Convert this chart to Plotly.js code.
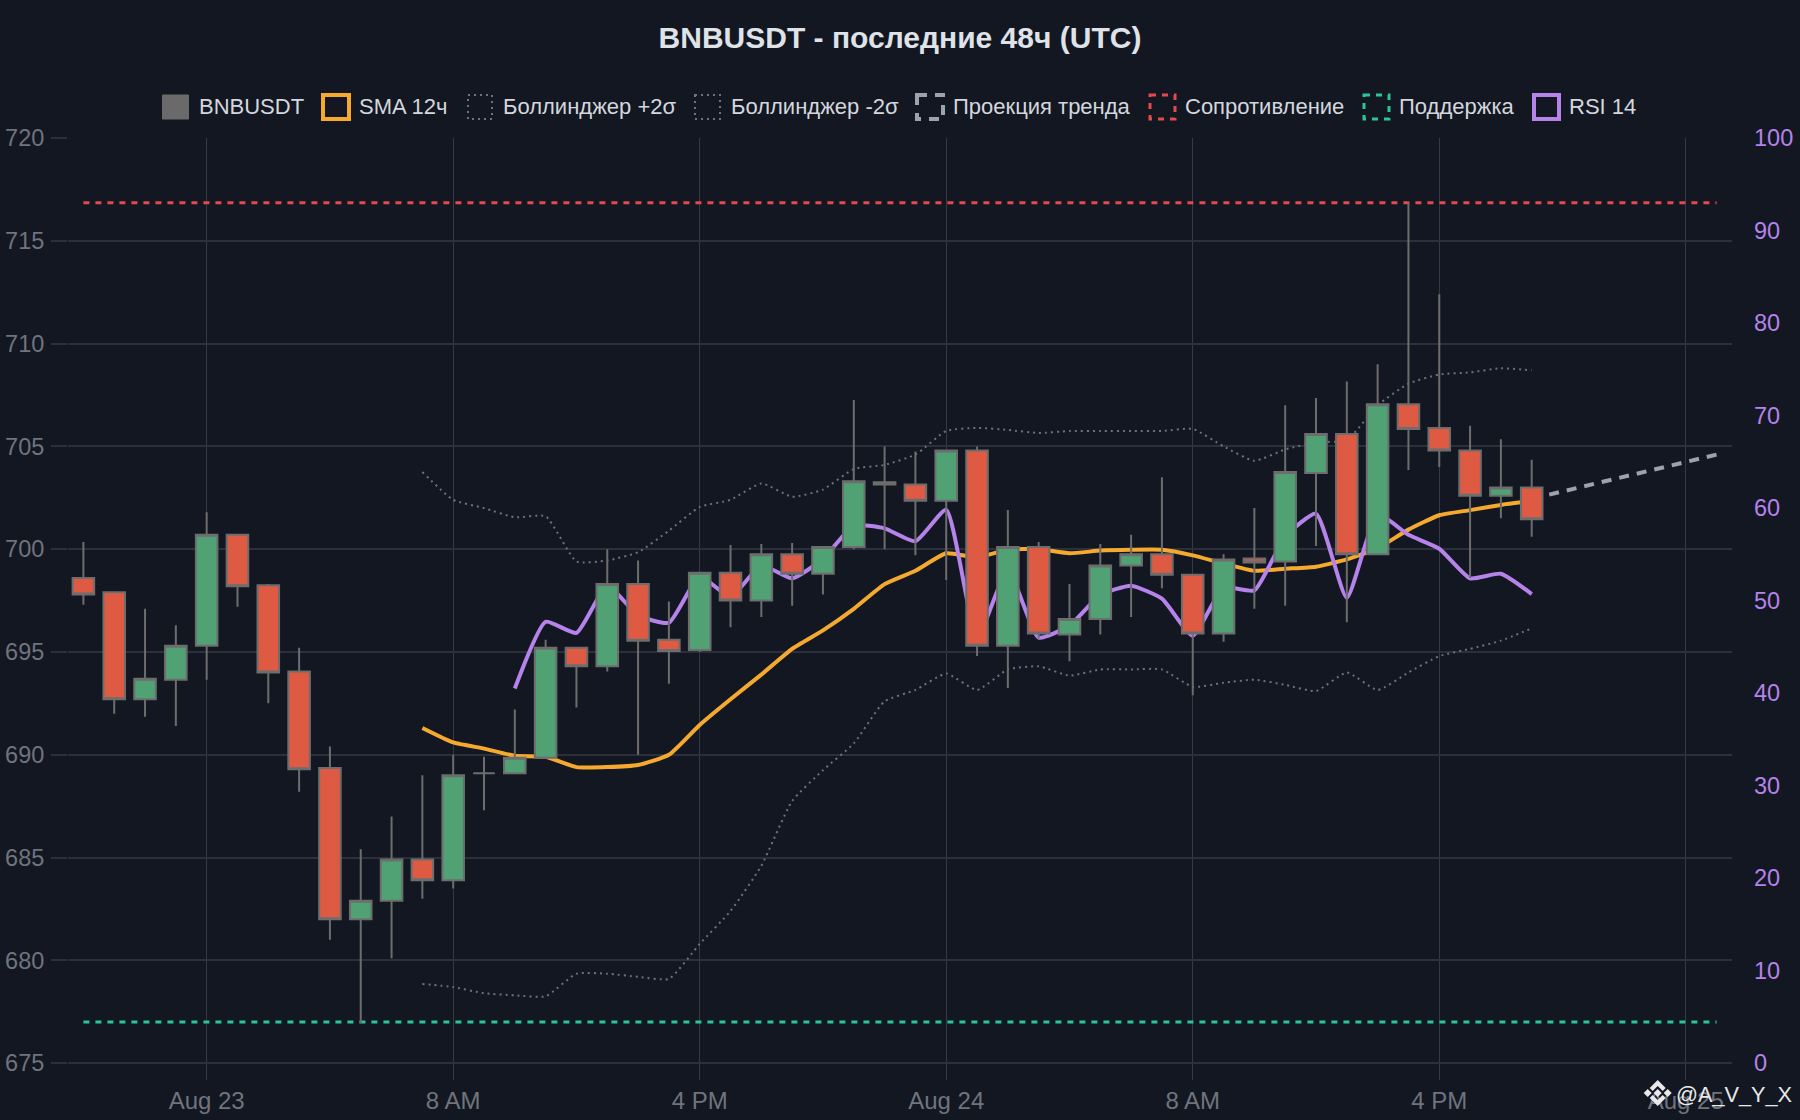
<!DOCTYPE html>
<html><head><meta charset="utf-8">
<script src="https://cdn.plot.ly/plotly-3.0.1.min.js"></script>
<style>html,body{margin:0;padding:0;background:#121722}</style>
</head><body><div id="chart" style="width:1800px;height:1120px"></div>
<script>
const times = ['2025-08-22 20:00','2025-08-22 21:00','2025-08-22 22:00','2025-08-22 23:00',
'2025-08-23 00:00','2025-08-23 01:00','2025-08-23 02:00','2025-08-23 03:00','2025-08-23 04:00','2025-08-23 05:00','2025-08-23 06:00','2025-08-23 07:00',
'2025-08-23 08:00','2025-08-23 09:00','2025-08-23 10:00','2025-08-23 11:00','2025-08-23 12:00','2025-08-23 13:00','2025-08-23 14:00','2025-08-23 15:00',
'2025-08-23 16:00','2025-08-23 17:00','2025-08-23 18:00','2025-08-23 19:00','2025-08-23 20:00','2025-08-23 21:00','2025-08-23 22:00','2025-08-23 23:00',
'2025-08-24 00:00','2025-08-24 01:00','2025-08-24 02:00','2025-08-24 03:00','2025-08-24 04:00','2025-08-24 05:00','2025-08-24 06:00','2025-08-24 07:00',
'2025-08-24 08:00','2025-08-24 09:00','2025-08-24 10:00','2025-08-24 11:00','2025-08-24 12:00','2025-08-24 13:00','2025-08-24 14:00','2025-08-24 15:00',
'2025-08-24 16:00','2025-08-24 17:00','2025-08-24 18:00','2025-08-24 19:00'];
const opens = [698.6,697.9,692.7,693.65,695.3,700.7,698.25,694.05,689.35,682,682.9,684.9,
683.9,689.1,689.1,689.85,695.2,694.3,698.3,695.6,695.1,698.85,697.5,699.75,
698.8,700.1,703.25,703.15,702.35,704.8,695.3,700.1,695.85,696.6,699.2,699.75,
698.75,695.9,699.55,699.4,703.7,705.6,699.75,707.05,705.9,704.8,702.6,703];
const highs = [700.35,697.95,697.1,696.3,701.8,700.75,698.3,695.2,690.4,685.4,687,689,
690,689.9,692.2,695.6,695.2,700,699.45,697.45,698.9,700.2,700.25,700.3,
700.1,707.25,705,704.75,704.85,705,701.9,700.35,698.3,700.25,700.7,703.5,
698.8,699.75,702,707,707.35,708.15,709,716.85,712.4,706,705.35,704.35];
const lows = [697.3,692,691.85,691.4,693.65,697.2,692.5,688.2,681,676.95,680.1,683,
683.5,687.3,689.05,689.8,692.3,694.05,690,693.45,695,696.2,696.7,697.25,
697.8,700,700,699.7,698.5,694.8,693.25,695.65,694.55,695.85,696.7,698.1,
692.9,695.5,697.1,697.25,700.15,696.45,699.7,703.85,704,698.6,701.5,700.6];
const closes = [697.8,692.7,693.7,695.3,700.7,698.2,694,689.3,682,682.9,684.9,683.9,
689,689.1,689.85,695.2,694.3,698.3,695.55,695.05,698.85,697.5,699.75,698.8,
700.1,703.3,703.15,702.35,704.8,695.3,700.1,695.9,696.6,699.2,699.75,698.75,
695.9,699.5,699.35,703.75,705.6,699.75,707.05,705.85,704.8,702.6,703,701.45];

const indicatorTimes = times.slice(11);
const sma12 = [691.3,690.6,690.3,689.95,689.9,689.4,689.4,689.5,690,691.45,692.7,693.9,695.15,
696.05,697.1,698.3,698.95,699.8,699.6,699.97,700,699.8,699.93,699.97,699.97,699.7,699.3,698.95,
699.05,699.15,699.5,700.05,700.95,701.65,701.9,702.15,702.35];
const bollUpper = [703.75,702.4,702,701.55,701.6,699.4,699.45,699.85,700.9,702.05,702.4,703.2,702.55,
702.9,703.9,704.1,704.6,705.75,705.9,705.8,705.65,705.75,705.75,705.75,705.75,705.85,705,704.3,
704.85,705.2,705.3,707,708.05,708.5,708.6,708.8,708.7];
const bollLower = [678.85,678.7,678.4,678.3,678.25,679.35,679.35,679.2,679.1,680.8,682.4,684.6,687.75,
689.25,690.55,692.6,693.15,693.95,693.15,694.15,694.3,693.85,694.15,694.15,694.15,693.3,693.5,693.65,
693.4,693.1,694,693.15,694,694.8,695.15,695.55,696.15];
const rsiTimes = times.slice(14);
const rsi14 = [40.5,47.7,46.5,51.6,48.4,47.6,52.6,50.4,53.8,52.4,54.5,58.1,57.8,56.4,59.8,46,53.3,46,47.3,50.6,
51.6,50.2,46.2,51.4,51.1,56.9,59.4,50.3,59.3,57.1,55.6,52.4,52.9,50.7];

const trendTimes = ['2025-08-24 19:00','2025-08-25 01:00'];
const trendValues = [702.45,704.6];
const levelTimes = ['2025-08-22 20:00','2025-08-25 01:00'];
const resistance = [716.85,716.85];
const support = [677,677];

const priceTicks = [675,680,685,690,695,700,705,710,715,720];
const rsiTicks = [0,10,20,30,40,50,60,70,80,90,100];
const timeTicks = ['2025-08-23 00:00','2025-08-23 08:00','2025-08-23 16:00','2025-08-24 00:00','2025-08-24 08:00','2025-08-24 16:00','2025-08-25 00:00'];
const timeTickLabels = ['Aug 23','8 AM','4 PM','Aug 24','8 AM','4 PM','Aug 25'];
const seriesNames = ['BNBUSDT','SMA 12ч','Боллинджер +2σ','Боллинджер -2σ','Проекция тренда','Сопротивление','Поддержка','RSI 14'];

const FONT = '"Liberation Sans", Arial, sans-serif';
const L=68,R=1732,T=138,B=1080;
const px=x=>(x-L)/(R-L), py=y=>(B-y)/(B-T);
const GRID='#2b303b', ORANGE='#f5a92f', PURPLE='#b583ea', RED='#e5484d', TEAL='#2cc596', GREY='#9ca3af', DOT='#6b7280';
const DOTTED='2px,4px', DASHED='6px,6px', TREND='10px,8px';

const traces = [
 {type:'scatter',mode:'lines',name:seriesNames[2],x:indicatorTimes,y:bollUpper,line:{color:DOT,width:2,dash:DOTTED,shape:'spline',smoothing:0.5},showlegend:false},
 {type:'scatter',mode:'lines',name:seriesNames[3],x:indicatorTimes,y:bollLower,line:{color:DOT,width:2,dash:DOTTED,shape:'spline',smoothing:0.5},showlegend:false},
 {type:'scatter',mode:'lines',name:seriesNames[4],x:trendTimes,y:trendValues,line:{color:GREY,width:4,dash:TREND},showlegend:false},
 {type:'scatter',mode:'lines',name:seriesNames[5],x:levelTimes,y:resistance,line:{color:RED,width:3,dash:DASHED},showlegend:false},
 {type:'scatter',mode:'lines',name:seriesNames[6],x:levelTimes,y:support,line:{color:TEAL,width:3,dash:DASHED},showlegend:false},
 {type:'scatter',mode:'lines',name:seriesNames[1],x:indicatorTimes,y:sma12,line:{color:ORANGE,width:4,shape:'spline',smoothing:0.5},showlegend:false},
 {type:'scatter',mode:'lines',name:seriesNames[7],x:rsiTimes,y:rsi14,yaxis:'y2',line:{color:PURPLE,width:4,shape:'spline',smoothing:0.5},showlegend:false},
 {type:'candlestick',name:seriesNames[0],x:times,open:opens,high:highs,low:lows,close:closes,yaxis:'y3',showlegend:false,
  whiskerwidth:0,
  increasing:{fillcolor:'#50a275',line:{color:'#6d6d6d',width:2}},
  decreasing:{fillcolor:'#de5a43',line:{color:'#6d6d6d',width:2}}}
];

// legend row, drawn in pixel positions
const legendSym = [[162.5,188.5],[323,349],[468,492],[695,720],[917,943],[1150,1175],[1364,1389],[1534,1559]];
const legendTextX = [198.6,359.4,502.9,730.8,953.4,1185.3,1399.4,1569.4];
const legendLine = [
 {color:'#6a6a6a',width:1},{color:ORANGE,width:4},{color:DOT,width:2,dash:DOTTED},{color:DOT,width:2,dash:DOTTED},
 {color:GREY,width:4,dash:TREND},{color:RED,width:3,dash:DASHED},{color:TEAL,width:3,dash:DASHED},{color:PURPLE,width:4}];
const shapes = legendSym.map((s,i)=>({type:'rect',xref:'paper',yref:'paper',layer:'above',
  x0:px(s[0]),x1:px(s[1]),y0:py(95),y1:py(119),line:legendLine[i],fillcolor:i===0?'#6a6a6a':'rgba(0,0,0,0)'}));
const annotations = seriesNames.map((n,i)=>({xref:'paper',yref:'paper',x:px(legendTextX[i]),y:py(106.3),text:n,showarrow:false,
  xanchor:'left',yanchor:'middle',xshift:0,font:{family:FONT,size:22,color:'#d4d7dd'},borderpad:0,borderwidth:0}));

// watermark
const cx=1657.7, cy=1093;
const logo=[[[0,-13],[8,-5],[5,-2],[0,-7],[-5,-2],[-8,-5]],[[0,13],[8,5],[5,2],[0,7],[-5,2],[-8,5]],
 [[0,-4],[4,0],[0,4],[-4,0]],[[-10,-4],[-6,0],[-10,4],[-14,0]],[[10,-4],[14,0],[10,4],[6,0]]];
logo.forEach(p=>shapes.push({type:'path',xref:'paper',yref:'paper',layer:'above',fillcolor:'#e9e9e9',line:{width:0},
  path:'M'+p.map(q=>px(cx+q[0]).toFixed(5)+','+py(cy+q[1]).toFixed(5)).join('L')+'Z'}));
annotations.push({xref:'paper',yref:'paper',x:px(1675),y:py(1094),text:'@A_V_Y_X',showarrow:false,xanchor:'left',yanchor:'middle',
  font:{family:FONT,size:21.7,color:'#e9e9e9'},borderpad:0});

const layout = {
 width:1800,height:1120,paper_bgcolor:'#121722',plot_bgcolor:'#121722',showlegend:false,hovermode:false,
 margin:{l:L,r:1800-R,t:T,b:1120-B,pad:0,autoexpand:false},
 font:{family:FONT},
 boxgap:0.3,boxgroupgap:0,
 title:{text:'BNBUSDT - последние 48ч (UTC)',x:0.5,xanchor:'center',xref:'paper',y:1-37.5/1120,yanchor:'middle',yref:'container',
   font:{family:FONT,size:30,weight:700,color:'#dfe2e7'}},
 xaxis:{type:'date',range:['2025-08-22 19:30','2025-08-25 01:30'],rangeslider:{visible:false},tickmode:'array',tickvals:timeTicks,ticktext:timeTickLabels,
   showgrid:true,gridcolor:'#353a45',gridwidth:1.2,zeroline:false,showline:false,ticks:'',ticklabelstandoff:4,tickfont:{family:FONT,size:24,color:'#6f747d'},automargin:false},
 yaxis:{range:[674.18,720],tickmode:'array',tickvals:priceTicks,showgrid:true,gridcolor:GRID,gridwidth:2,zeroline:false,showline:false,
   ticks:'outside',ticklen:16,tickwidth:2,tickcolor:GRID,ticklabelstandoff:2,tickfont:{family:FONT,size:23.5,color:'#6f747d'},automargin:false},
 yaxis2:{range:[-1.83,100],overlaying:'y',side:'right',tickmode:'array',tickvals:rsiTicks,showgrid:false,zeroline:false,showline:false,
   ticks:'',ticklabelstandoff:21,tickfont:{family:FONT,size:23.5,color:PURPLE},automargin:false},
 yaxis3:{range:[674.18,720],overlaying:'y',side:'left',visible:false,showgrid:false,zeroline:false},
 shapes,annotations
};
Plotly.newPlot('chart',traces,layout,{displayModeBar:false,staticPlot:true});
</script></body></html>
